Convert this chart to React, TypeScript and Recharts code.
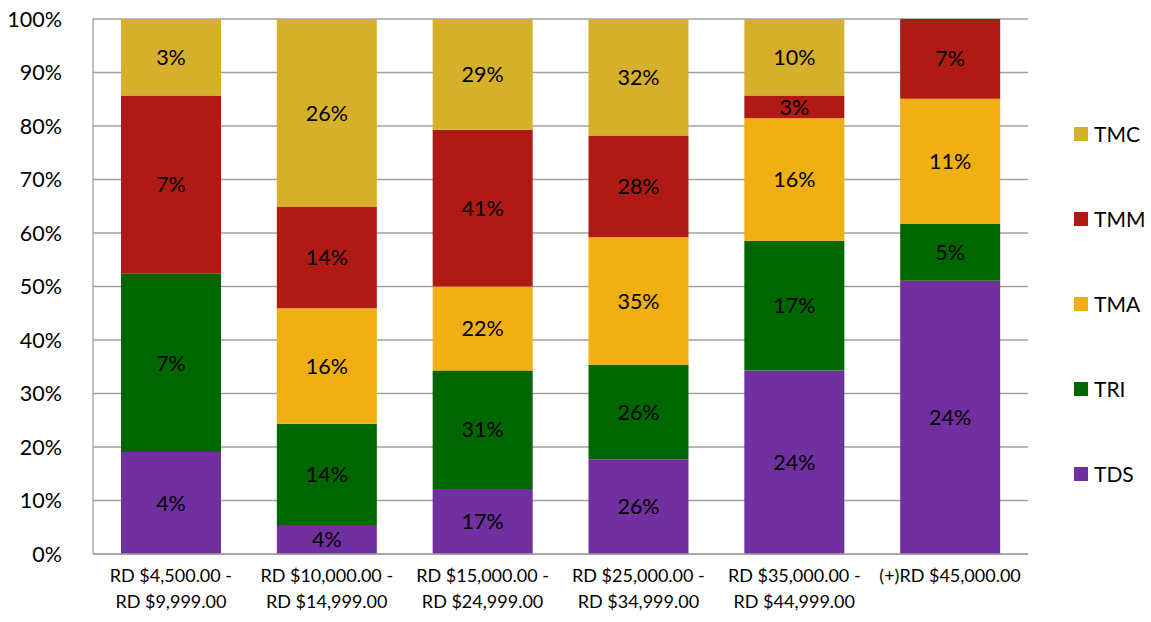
import { Bar, BarChart, CartesianGrid, LabelList, Legend, XAxis, YAxis } from 'recharts';

// raw values shown as labels; bar heights are normalised to 100%
const categories = [
    'RD $4,500.00 -|RD $9,999.00',
    'RD $10,000.00 -|RD $14,999.00',
    'RD $15,000.00 -|RD $24,999.00',
    'RD $25,000.00 -|RD $34,999.00',
    'RD $35,000.00 -|RD $44,999.00',
    '(+)RD $45,000.00',
]
const tds = [4, 4, 17, 26, 24, 24]
const tri = [7, 14, 31, 26, 17, 5]
const tma = [0, 16, 22, 35, 16, 11]
const tmm = [7, 14, 41, 28, 3, 7]
const tmc = [3, 26, 29, 32, 10, 0]
const yTicks = [0, 0.1, 0.2, 0.3, 0.4, 0.5, 0.6, 0.7, 0.8, 0.9, 1]

const series = [
    { key: 'TDS', color: '#7030A0', values: tds },
    { key: 'TRI', color: '#006600', values: tri },
    { key: 'TMA', color: '#F0AF12', values: tma },
    { key: 'TMM', color: '#AF1A15', values: tmm },
    { key: 'TMC', color: '#D6B02A', values: tmc },
]

const data = categories.map((name, i) => {
    const row: Record<string, any> = { name }
    series.forEach(s => { row[s.key] = s.values[i] })
    return row
})

const FONT = 'Lato, "Liberation Sans", sans-serif'

const XTick = (props: any) => {
    const { x, y, payload } = props
    const lines = String(payload.value).split('|')
    return (
        <text x={x} y={y + 20} textAnchor="middle" fontSize={18} fill="#000" fontFamily={FONT}>
            {lines.map((l, i) => (
                <tspan key={i} x={x} dy={i === 0 ? 0 : 26}>{l}</tspan>
            ))}
        </text>
    )
}

const LegendBox = () => (
    <div style={{ fontFamily: FONT, fontSize: 21 }}>
        {[...series].reverse().map((s, i) => (
            <div key={s.key} style={{ position: 'absolute', left: 0, top: i * 85, display: 'flex', alignItems: 'center', whiteSpace: 'nowrap' }}>
                <span style={{ width: 14, height: 14, background: s.color, display: 'inline-block', marginRight: 6 }} />
                <span>{s.key}</span>
            </div>
        ))}
    </div>
)

export default function App() {
    return (
        <div style={{ position: 'fixed', left: 0, top: 0, background: '#fff' }}>
            <BarChart
                width={1151}
                height={622}
                data={data}
                stackOffset="expand"
                margin={{ top: 19, right: 123, bottom: 0, left: 0 }}
            >
                <CartesianGrid vertical={false} stroke="#A0A0A0" strokeWidth={1.3} />
                <XAxis
                    dataKey="name"
                    height={68}
                    stroke="#A0A0A0"
                    strokeWidth={1.3}
                    tickLine={false}
                    tick={<XTick />}
                    interval={0}
                />
                <YAxis
                    width={93}
                    domain={[0, 1]}
                    ticks={yTicks}
                    tickFormatter={(v: number) => `${Math.round(v * 100)}%`}
                    stroke="#A0A0A0"
                    strokeWidth={1.3}
                    tickLine={false}
                    tickMargin={25}
                    tick={{ fill: '#000', fontSize: 21.5, fontFamily: FONT }}
                />
                <Legend
                    verticalAlign="top"
                    align="right"
                    content={<LegendBox />}
                    wrapperStyle={{ position: 'absolute', left: 1074, top: 121, width: 70 }}
                />
                {series.map(s => (
                    <Bar key={s.key} dataKey={s.key} stackId="a" fill={s.color} barSize={100} isAnimationActive={false}>
                        <LabelList
                            dataKey={s.key}
                            position="center"
                            formatter={(v: any) => (v ? `${v}%` : '')}
                            fill="#000"
                            fontSize={21.5}
                            fontFamily={FONT}
                        />
                    </Bar>
                ))}
            </BarChart>
        </div>
    )
}
